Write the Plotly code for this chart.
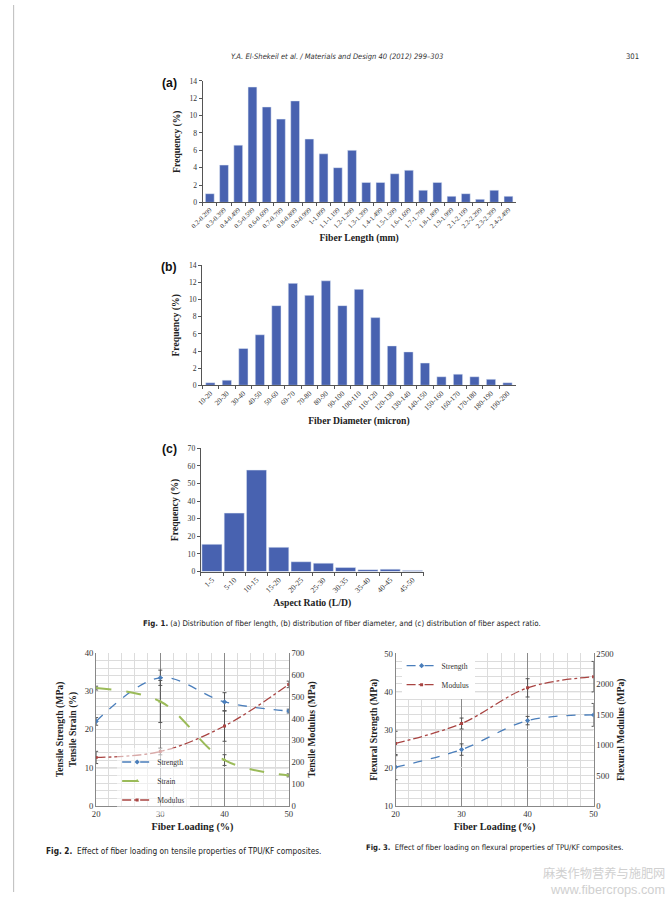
import plotly.graph_objects as go

W, H = 672, 897
# the photographed page is slightly inset/scaled; map reference pixels to page coordinates
XO, XS = 12.0, 654.0 / 672.0
YO, YS = 6.0, 884.0 / 897.0
def X(r): return max(0.001, min(0.999, ((r - XO) / XS) / W))
def Y(r): return max(0.001, min(0.999, 1 - ((r - YO) / YS) / H))
def F(s): return round(s / 0.98, 2)

# ---------------- data ----------------
len_cats = ["0.2-0.299", "0.3-0.399", "0.4-0.499", "0.5-0.599", "0.6-0.699", "0.7-0.799",
            "0.8-0.899", "0.9-0.999", "1-1.099", "1.1-1.199", "1.2-1.299", "1.3-1.399",
            "1.4-1.499", "1.5-1.599", "1.6-1.699", "1.7-1.799", "1.8-1.899", "1.9-1.999",
            "2.1-2.199", "2.2-2.299", "2.3-2.399", "2.4-2.499"]
len_freq = [1.0, 4.3, 6.6, 13.3, 11.0, 9.6, 11.7, 7.3, 5.6, 4.0, 6.0, 2.3,
            2.3, 3.3, 3.7, 1.4, 2.3, 0.7, 1.0, 0.35, 1.4, 0.7]

dia_cats = ["10-20", "20-30", "30-40", "40-50", "50-60", "60-70", "70-80", "80-90", "90-100",
            "100-110", "110-120", "120-130", "130-140", "140-150", "150-160", "160-170",
            "170-180", "180-190", "190-200"]
dia_freq = [0.3, 0.6, 4.3, 5.9, 9.3, 11.9, 10.5, 12.2, 9.3, 11.2, 7.9, 4.6, 3.9, 2.6,
            1.0, 1.3, 1.0, 0.7, 0.3]

ar_cats = ["1-5", "5-10", "10-15", "15-20", "20-25", "25-30", "30-35", "35-40", "40-45", "45-50"]
ar_freq = [15.5, 33.2, 57.6, 13.8, 5.6, 4.8, 2.3, 1.1, 1.4, 0.7]

loading = [20, 30, 40, 50]
t_strength = [22.1, 33.5, 27.2, 24.8]
t_strength_err = [1.0, 2.0, 2.4, 0.5]
t_strain = [30.8, 27.3, 12.0, 8.0]
t_strain_err = [0.5, 5.5, 1.4, 0.4]
t_modulus = [222, 249, 366, 556]
t_modulus_err = [28, 15, 70, 15]

f_strength = [20.2, 24.8, 32.4, 33.9]
f_strength_err = [3.3, 1.5, 1.1, 3.0]
f_modulus = [1025, 1352, 1937, 2120]
f_modulus_err = [200, 90, 150, 250]

BAR = "#4862b0"
BLUE = "#4a7ebb"
GREEN = "#9bbb59"
RED = "#a94442"
SERIF = "Liberation Serif"
TICKF = dict(family=SERIF, size=F(7.5), color="#333")
TITLEF = dict(family=SERIF, size=F(9.5), color="#222", weight="bold")

fig = go.Figure()

# ---------------- Fig 1 bars ----------------
fig.add_trace(go.Bar(x=len_cats, y=len_freq, marker_color=BAR, xaxis="x", yaxis="y",
                     showlegend=False, width=0.62))
fig.add_trace(go.Bar(x=dia_cats, y=dia_freq, marker_color=BAR, xaxis="x2", yaxis="y2",
                     showlegend=False, width=0.56))
fig.add_trace(go.Bar(x=ar_cats, y=ar_freq, marker_color=BAR, xaxis="x3", yaxis="y3",
                     showlegend=False, width=0.9))

def hist_axes(xd, yd, ymax, dtick, title, tick_size=6):
    xa = dict(domain=[X(xd[0]), X(xd[1])], tickangle=-45, tickfont=dict(family=SERIF, size=F(tick_size), color="#333"),
              showline=True, linecolor="#555", linewidth=1, ticks="outside", ticklen=3,
              tickson="boundaries", tickcolor="#555", showgrid=False, fixedrange=True,
              title=dict(text=title, font=TITLEF, standoff=5))
    ya = dict(domain=[Y(yd[0]), Y(yd[1])], range=[0, ymax], dtick=dtick, tickfont=TICKF,
              showline=True, linecolor="#555", linewidth=1, ticks="outside", ticklen=3,
              tickcolor="#555", showgrid=False, zeroline=False,
              title=dict(text="Frequency (%)", font=TITLEF, standoff=7))
    return xa, ya

xa, ya = hist_axes((201.4, 513.8), (202.7, 81.7), 14, 2, "Fiber Length (mm)", 6.6)
xa["anchor"] = "y"; ya["anchor"] = "x"
fig.update_layout(xaxis=xa, yaxis=ya)
xa, ya = hist_axes((200.8, 514), (385, 265.5), 14, 2, "Fiber Diameter (micron)", 7.1)
xa["anchor"] = "y2"; ya["anchor"] = "x2"
fig.update_layout(xaxis2=xa, yaxis2=ya)
xa, ya = hist_axes((199.5, 422), (570.7, 447.7), 70, 10, "Aspect Ratio (L/D)", 7.5)
xa["anchor"] = "y3"; ya["anchor"] = "x3"
fig.update_layout(xaxis3=xa, yaxis3=ya)

# ---------------- Fig 2 ----------------
ebar = lambda arr: dict(type="data", array=arr, color="#555", thickness=1, width=2)
fig.add_trace(go.Scatter(x=loading, y=t_strength, name="Strength", mode="lines+markers",
                         line=dict(color=BLUE, dash="dash", width=1.3, shape="spline"),
                         marker=dict(symbol="diamond", size=4, color=BLUE),
                         error_y=ebar(t_strength_err), xaxis="x4", yaxis="y4", legend="legend"))
fig.add_trace(go.Scatter(x=loading, y=t_strain, name="Strain", mode="lines+markers",
                         line=dict(color=GREEN, dash="longdash", width=2, shape="spline"),
                         marker=dict(symbol="triangle-up", size=4, color=GREEN),
                         error_y=ebar(t_strain_err), xaxis="x4", yaxis="y4", legend="legend"))
fig.add_trace(go.Scatter(x=loading, y=t_modulus, name="Modulus", mode="lines+markers",
                         line=dict(color=RED, dash="dashdot", width=1.3, shape="spline"),
                         marker=dict(symbol="square", size=3, color=RED),
                         error_y=ebar(t_modulus_err), xaxis="x4", yaxis="y5", legend="legend"))

GRID = "#dcdcdc"
MAJ = "#8a8a8a"
AXT = dict(family=SERIF, size=F(9.5), color="#222", weight="bold")
TK = dict(family=SERIF, size=F(8.5), color="#333")
def line_axes(xd, yd):
    xa = dict(domain=[X(xd[0]), X(xd[1])], range=[20, 50], dtick=10, tickfont=TK,
              showline=True, linecolor="#888", linewidth=1, ticks="", showgrid=True, gridcolor=MAJ,
              gridwidth=1, zeroline=False, minor=dict(dtick=2, showgrid=True, gridcolor=GRID, gridwidth=0.6),
              title=dict(text="Fiber Loading (%)", font=dict(family=SERIF, size=F(10), color="#222", weight="bold"), standoff=4))
    ya = dict(domain=[Y(yd[0]), Y(yd[1])], tickfont=TK,
              showline=True, linecolor="#888", linewidth=1, ticks="", showgrid=True, gridcolor=GRID,
              gridwidth=0.6, zeroline=False, minor=dict(dtick=2, showgrid=True, gridcolor=GRID, gridwidth=0.6))
    return xa, ya

xa, ya = line_axes((95, 287.3), (804.3, 651.7))
xa["anchor"] = "y4"; ya.update(anchor="x4", range=[0, 40], dtick=10,
    title=dict(text="Tensile Strength (MPa)<br>Tensile Strain (%)", font=AXT, standoff=6))
y5 = dict(overlaying="y4", side="right", anchor="x4", range=[0, 700], dtick=100, showgrid=False,
          tickfont=TK, showline=True, linecolor="#888", zeroline=False,
          title=dict(text="Tensile Modulus (MPa)", font=AXT, standoff=4))
fig.update_layout(xaxis4=xa, yaxis4=ya, yaxis5=y5)

# ---------------- Fig 3 ----------------
fig.add_trace(go.Scatter(x=loading, y=f_strength, name="Strength", mode="lines+markers",
                         line=dict(color=BLUE, dash="dash", width=1.3, shape="spline"),
                         marker=dict(symbol="diamond", size=4, color=BLUE),
                         error_y=ebar(f_strength_err), xaxis="x5", yaxis="y6", legend="legend2"))
fig.add_trace(go.Scatter(x=loading, y=f_modulus, name="Modulus", mode="lines+markers",
                         line=dict(color=RED, dash="dashdot", width=1.3, shape="spline"),
                         marker=dict(symbol="square", size=3, color=RED),
                         error_y=ebar(f_modulus_err), xaxis="x5", yaxis="y7", legend="legend2"))

xa, ya = line_axes((394, 591.7), (804.3, 652.3))
xa["anchor"] = "y6"; ya.update(anchor="x5", range=[10, 50], dtick=10,
    title=dict(text="Flexural Strength (MPa)", font=AXT, standoff=4))
y7 = dict(overlaying="y6", side="right", anchor="x5", range=[0, 2500], dtick=500, showgrid=False,
          tickfont=TK, showline=True, linecolor="#888", zeroline=False,
          title=dict(text="Flexural Modulus (MPa)", font=AXT, standoff=4))
fig.update_layout(xaxis5=xa, yaxis6=ya, yaxis7=y7)

# darker major grid lines (Excel style) and the page's left rule
shapes = [
    dict(type="line", xref="x4", yref="y4", x0=20, x1=50, y0=10, y1=10, line=dict(color=MAJ, width=1), layer="below"),
    dict(type="line", xref="x5", yref="y6", x0=20, x1=50, y0=30, y1=30, line=dict(color=MAJ, width=1), layer="below"),
    dict(type="line", xref="x5", yref="y6", x0=20, x1=50, y0=40, y1=40, line=dict(color=MAJ, width=1), layer="below"),
    dict(type="line", xref="paper", yref="paper", x0=0.001, x1=0.001, y0=0, y1=1, line=dict(color="#bbb", width=1)),
]

LEGF = dict(family=SERIF, size=F(7.5), color="#333")
fig.update_layout(
    legend=dict(x=X(116), y=Y(746), xanchor="left", yanchor="top", bgcolor="rgba(255,255,255,0.55)", font=LEGF,
                tracegroupgap=0, itemwidth=30, borderwidth=0),
    legend2=dict(x=X(400), y=Y(650), xanchor="left", yanchor="top", bgcolor="white", font=LEGF,
                 tracegroupgap=0, itemwidth=30, borderwidth=0),
)

SANS = "Liberation Sans Narrow, DejaVu Sans Condensed, Liberation Sans"
ann = [
    dict(text="<i>Y.A. El-Shekeil et al. / Materials and Design 40 (2012) 299–303</i>", x=X(336), y=Y(57),
         font=dict(family=SANS, size=F(7.4), color="#333")),
    dict(text="301", x=X(631), y=Y(57), font=dict(family=SANS, size=F(7.5), color="#333")),
    dict(text="<b>(a)</b>", x=X(168), y=Y(84), font=dict(family="Liberation Sans", size=F(12), color="#111")),
    dict(text="<b>(b)</b>", x=X(168), y=Y(267), font=dict(family="Liberation Sans", size=F(12), color="#111")),
    dict(text="<b>(c)</b>", x=X(168), y=Y(448), font=dict(family="Liberation Sans", size=F(12), color="#111")),
    dict(text="<b>Fig. 1.</b> (a) Distribution of fiber length, (b) distribution of fiber diameter, and (c) distribution of fiber aspect ratio.",
         x=X(340), y=Y(622), font=dict(family=SANS, size=F(7.7), color="#222")),
    dict(text="<b>Fig. 2.</b>  Effect of fiber loading on tensile properties of TPU/KF composites.",
         x=X(182), y=Y(849), font=dict(family=SANS, size=F(8.1), color="#222")),
    dict(text="<b>Fig. 3.</b>  Effect of fiber loading on flexural properties of TPU/KF composites.",
         x=X(493), y=Y(846), font=dict(family=SANS, size=F(7.5), color="#222")),
    dict(text="麻类作物营养与施肥网", x=X(668), y=Y(871.5), xanchor="right",
         font=dict(family="Noto Sans CJK SC", size=F(12), color="#d0d0d0")),
    dict(text="www.fibercrops.com", x=X(668), y=Y(888), xanchor="right",
         font=dict(family="Liberation Sans", size=F(12.5), color="#d0d0d0")),
]
for a in ann:
    a.setdefault("xanchor", "center")
    a.update(xref="paper", yref="paper", showarrow=False, yanchor="middle")

fig.update_layout(width=W, height=H, autosize=False, margin=dict(l=0, r=0, t=0, b=0),
                  paper_bgcolor="white", plot_bgcolor="white", bargap=0.3,
                  shapes=shapes, annotations=ann, showlegend=True)

fig.write_html("out.html", config={"displayModeBar": False},
               post_script="document.body.style.margin='0px';document.body.style.overflow='hidden';")
